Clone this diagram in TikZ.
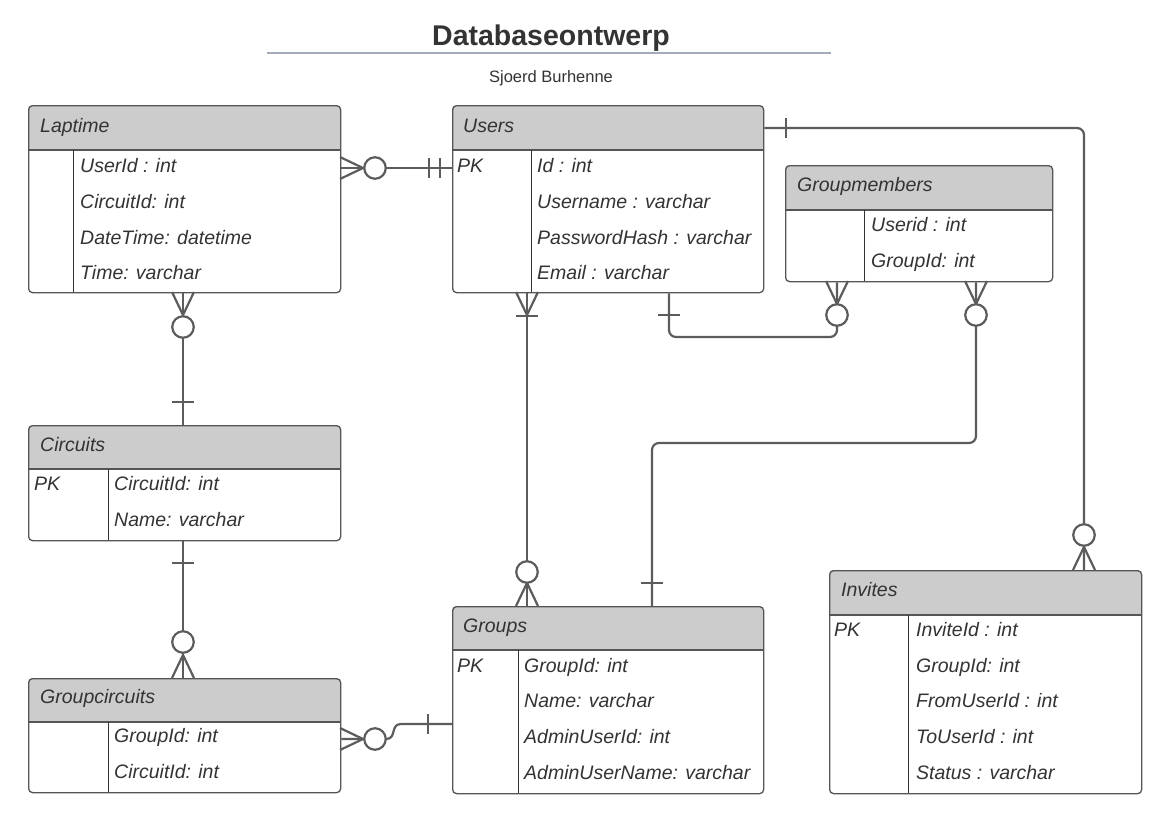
\documentclass[tikz,border=0pt]{standalone}
\usepackage{fontspec}
\setmainfont{Liberation Sans}
\usetikzlibrary{calc}
\definecolor{hdrgray}{HTML}{CCCCCC}
\definecolor{linegray}{HTML}{5C5C5C}
\definecolor{boxgray}{HTML}{555555}
\definecolor{divgray}{HTML}{333333}
\definecolor{txtgray}{HTML}{333333}
\definecolor{rulegray}{HTML}{A3ABB8}
\tikzset{
  tbl/.style={draw=boxgray, line width=1.3pt, rounded corners=4pt, inner sep=0pt, anchor=north west},
  sepline/.style={draw=boxgray, line width=1.3pt},
  divline/.style={draw=divgray, line width=1pt},
  hdrtxt/.style={anchor=base west, inner sep=0pt, font=\fontsize{19.5}{22}\selectfont\itshape, text=txtgray},
  rowtxt/.style={anchor=base west, inner sep=0pt, font=\fontsize{19.5}{22}\selectfont\itshape, text=txtgray},
  titletxt/.style={anchor=base, inner sep=0pt, font=\fontsize{28.5}{32}\selectfont\bfseries, text=txtgray},
  subtxt/.style={anchor=base, inner sep=0pt, font=\fontsize{16.5}{19}\selectfont, text=txtgray},
  conn/.style={draw=linegray, line width=2.2pt, line join=round},
  ring/.style={circle, draw=linegray, line width=2.2pt, fill=white, minimum size=21.5pt, inner sep=0pt},
}
% name, x, y, w, h, header height, divider x
\newcommand\ertable[7]{%
  \begin{scope}
    \clip[rounded corners=4pt] (#2,#3) rectangle ++(#4,#5);
    \fill[hdrgray] (#2,#3) rectangle ++(#4,#6);
  \end{scope}
  \draw[sepline] (#2,#3+#6) -- ++(#4,0);
  \draw[divline] (#7,#3+#6) -- (#7,#3+#5);
  \node[tbl, minimum width=#4pt, minimum height=#5pt] (#1) at (#2,#3) {};
}
\newcommand\crowR[2]{\draw[conn] (#1,#2-11) -- (#1+23,#2) -- (#1,#2+11);}
\newcommand\crowD[2]{\draw[conn] (#1-11,#2) -- (#1,#2+23) -- (#1+11,#2);}
\newcommand\crowU[2]{\draw[conn] (#1-11,#2) -- (#1,#2-23) -- (#1+11,#2);}
\newcommand\barH[2]{\draw[conn] (#1-11,#2) -- (#1+11,#2);}
\newcommand\barV[2]{\draw[conn] (#1,#2-10) -- (#1,#2+10);}
\begin{document}
\begin{tikzpicture}[x=1pt,y=-1pt]
\useasboundingbox (0,0) rectangle (1168,820);
\fill[white] (0,0) rectangle (1168,820);

% title
\node[titletxt] (title) at (551,45) {Databaseontwerp};
\draw[rulegray, line width=2pt] (267,53) -- (831,53);
\node[subtxt] (author) at (551,82) {Sjoerd Burhenne};

% tables
\ertable{lap}{28}{105}{312}{187}{45}{73}
\ertable{users}{452}{105}{311}{187}{45}{531}
\ertable{gm}{785}{165}{267}{116}{45}{864}
\ertable{circ}{28}{425}{312}{115}{44}{108}
\ertable{gc}{28}{678}{312}{114}{44}{108}
\ertable{groups}{452}{606}{311}{187}{44}{518}
\ertable{inv}{829}{570}{312}{223}{45}{908}

% Laptime
\node[hdrtxt] (lapH) at (40,132) {Laptime};
\node[rowtxt] (lap1) at (80,172) {UserId : int};
\node[rowtxt] (lap2) at (80,208) {CircuitId: int};
\node[rowtxt] (lap3) at (80,244) {DateTime: datetime};
\node[rowtxt] (lap4) at (80,279) {Time: varchar};

% Users
\node[hdrtxt] (usersH) at (463,132) {Users};
\node[rowtxt] (usersPK) at (457,172) {PK};
\node[rowtxt] (users1) at (537,172) {Id : int};
\node[rowtxt] (users2) at (537,208) {Username : varchar};
\node[rowtxt] (users3) at (537,244) {PasswordHash : varchar};
\node[rowtxt] (users4) at (537,279) {Email : varchar};

% Groupmembers
\node[hdrtxt] (gmH) at (797,191) {Groupmembers};
\node[rowtxt] (gm1) at (871,231) {Userid : int};
\node[rowtxt] (gm2) at (871,267) {GroupId: int};

% Circuits
\node[hdrtxt] (circH) at (40,451) {Circuits};
\node[rowtxt] (circPK) at (34,490) {PK};
\node[rowtxt] (circ1) at (114,490) {CircuitId: int};
\node[rowtxt] (circ2) at (114,526) {Name: varchar};

% Groupcircuits
\node[hdrtxt] (gcH) at (40,703) {Groupcircuits};
\node[rowtxt] (gc1) at (114,742) {GroupId: int};
\node[rowtxt] (gc2) at (114,778) {CircuitId: int};

% Groups
\node[hdrtxt] (groupsH) at (463,632) {Groups};
\node[rowtxt] (groupsPK) at (457,672) {PK};
\node[rowtxt] (groups1) at (524,672) {GroupId: int};
\node[rowtxt] (groups2) at (524,707) {Name: varchar};
\node[rowtxt] (groups3) at (524,743) {AdminUserId: int};
\node[rowtxt] (groups4) at (524,779) {AdminUserName: varchar};

% Invites
\node[hdrtxt] (invH) at (841,596) {Invites};
\node[rowtxt] (invPK) at (834,636) {PK};
\node[rowtxt] (inv1) at (916,636) {InviteId : int};
\node[rowtxt] (inv2) at (916,672) {GroupId: int};
\node[rowtxt] (inv3) at (916,707) {FromUserId : int};
\node[rowtxt] (inv4) at (916,743) {ToUserId : int};
\node[rowtxt] (inv5) at (916,779) {Status : varchar};

% C1 Laptime - Users
\draw[conn] (lap.east |- 0,168) -- (users.west |- 0,168);
\crowR{340}{168}
\node[ring] (r1) at (375,168) {};
\barV{429}{168}
\barV{440}{168}

% C2 Laptime - Circuits
\draw[conn] (lap.south -| 183,0) -- (circ.north -| 183,0);
\crowD{183}{292}
\node[ring] (r2) at (183,327) {};
\barH{183}{402}

% C3 Circuits - Groupcircuits
\draw[conn] (circ.south -| 183,0) -- (gc.north -| 183,0);
\barH{183}{563}
\node[ring] (r3) at (183,642) {};
\crowU{183}{678}

% C4 Groupcircuits - Groups
\draw[conn] (gc.east |- 0,739) -- (386,739) .. controls (397,739) and (390,724) .. (401,724) -- (groups.west |- 0,724);
\crowR{340}{739}
\node[ring] (r4) at (375,739) {};
\barV{428}{724}

% C5 Users - Groups
\draw[conn] (users.south -| 527,0) -- (groups.north -| 527,0);
\crowD{527}{292}
\barH{527}{316}
\node[ring] (r5) at (527,572) {};
\crowU{527}{606}

% C6 Users - Groupmembers
\draw[conn, rounded corners=7pt] (users.south -| 669,0) |- (837,337) -- (gm.south -| 837,0);
\barH{669}{315}
\node[ring] (r6) at (837,315) {};
\crowD{837}{281}

% C7 Groupmembers - Groups
\draw[conn, rounded corners=7pt] (gm.south -| 976,0) |- (652,443) -- (groups.north -| 652,0);
\crowD{976}{281}
\node[ring] (r7) at (976,315) {};
\barH{652}{583}

% C8 Users - Invites
\draw[conn, rounded corners=7pt] (users.east |- 0,128) -| (inv.north -| 1084,0);
\barV{786}{128}
\node[ring] (r8) at (1084,535) {};
\crowU{1084}{570}
\end{tikzpicture}
\end{document}
